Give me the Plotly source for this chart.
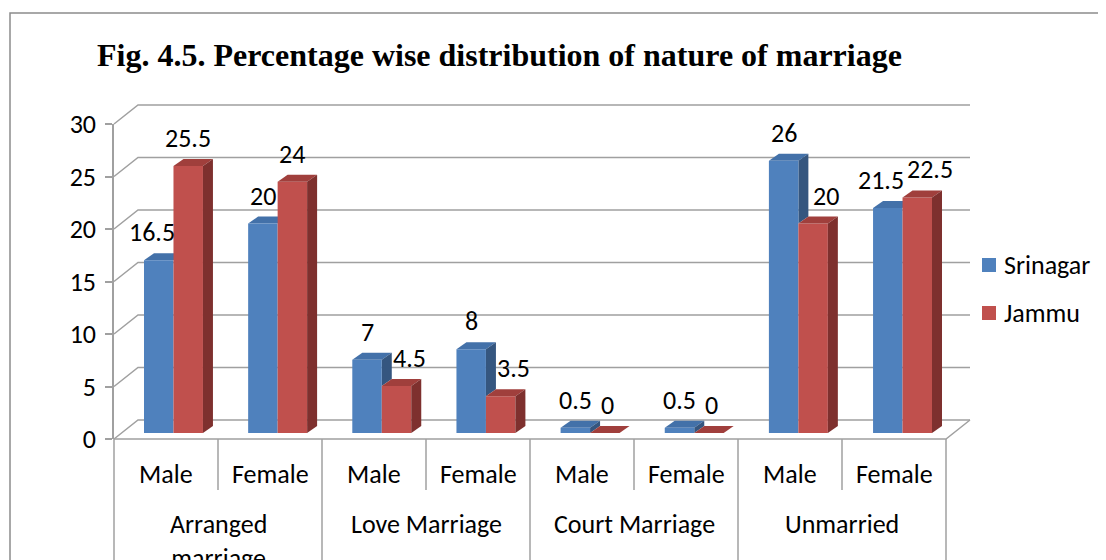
import plotly.graph_objects as go

# ---------------- data ----------------
sub_labels = ["Male", "Female", "Male", "Female", "Male", "Female", "Male", "Female"]
group_labels = ["Arranged<br>marriage", "Love Marriage", "Court Marriage", "Unmarried"]
series_names = ["Srinagar", "Jammu"]
srinagar = [16.5, 20, 7, 8, 0.5, 0.5, 26, 21.5]
jammu = [25.5, 24, 4.5, 3.5, 0, 0, 20, 22.5]
y_ticks = [0, 5, 10, 15, 20, 25, 30]
title_text = "Fig. 4.5. Percentage wise distribution of nature of marriage"

# ---------------- style ----------------
W, H = 1106, 560
OFF = 8  # page body margin compensation
BLUE, BLUE_TOP, BLUE_SIDE = "#4F81BD", "#4371A9", "#35567F"
RED, RED_TOP, RED_SIDE = "#C0504D", "#A03F3C", "#7E302E"
GRID = "#A0A0A0"
FONT = "Carlito, Lato, Calibri, sans-serif"
FS = 26


def X(px):
    return (px - OFF) / W


def Y(py):
    return 1 - (py - OFF) / H


n = len(sub_labels)
cat_w = 104.0          # pixel width of one category on the floor front
front_left = 114.0     # y-axis position
front_right = front_left + cat_w * n
depth_dx, depth_dy = 24.0, 19.0      # floor depth (pixels)
y0_front, px_per_unit = 439.0, 10.5
BW = 0.283                            # bar width (category units)
DX, DY = 10 / 104.15, 7 / 10.47      # bar depth in data units

fig = go.Figure()
fig.add_trace(go.Bar(x=list(range(n)), y=srinagar, width=BW, offset=-BW,
                     marker=dict(color=BLUE, line=dict(width=0)), name=series_names[0],
                     showlegend=False, xaxis="x", yaxis="y"))
fig.add_trace(go.Bar(x=list(range(n)), y=jammu, width=BW, offset=0,
                     marker=dict(color=RED, line=dict(width=0)), name=series_names[1],
                     showlegend=False, xaxis="x", yaxis="y"))
# empty trace so that the value-axis subplot is drawn
fig.add_trace(go.Scatter(x=[], y=[], xaxis="x2", yaxis="y2", showlegend=False, hoverinfo="skip"))

shapes = []
# outer frame
shapes.append(dict(type="rect", xref="paper", yref="paper", x0=X(10), x1=X(1125), y0=Y(13), y1=Y(610),
                   line=dict(color="#8C8C8C", width=1.5), layer="below"))
# back wall gridlines and floor
for v in y_ticks:
    yf = y0_front - v * px_per_unit
    yb = yf - depth_dy
    shapes.append(dict(type="path", xref="paper", yref="paper", layer="below",
                       path=f"M {X(front_left)},{Y(yf)} L {X(front_left + depth_dx)},{Y(yb)} "
                            f"L {X(front_right + depth_dx)},{Y(yb)}",
                       line=dict(color=GRID, width=1.5)))
# floor front edge and right diagonal
shapes.append(dict(type="path", xref="paper", yref="paper", layer="below",
                   path=f"M {X(front_left)},{Y(y0_front)} L {X(front_right)},{Y(y0_front)} "
                        f"L {X(front_right + depth_dx)},{Y(y0_front - depth_dy)}",
                   line=dict(color=GRID, width=1.5)))
# category table lines
for k in range(n + 1):
    xk = front_left + cat_w * k
    bottom = 610 if k % 2 == 0 else 490
    shapes.append(dict(type="line", xref="paper", yref="paper", layer="below",
                       x0=X(xk), x1=X(xk), y0=Y(y0_front), y1=Y(bottom),
                       line=dict(color=GRID, width=1.5)))

# 3D faces of the bars, computed from the values
for i, (b, r) in enumerate(zip(srinagar, jammu)):
    xl, xm, xr = i - BW, i, i + BW
    shapes.append(dict(type="path", xref="x", yref="y", layer="below", fillcolor=BLUE_TOP,
                       line=dict(width=0),
                       path=f"M {xl},{b} L {xm},{b} L {xm + DX},{b + DY} L {xl + DX},{b + DY} Z"))
    if b > r:
        shapes.append(dict(type="path", xref="x", yref="y", layer="below", fillcolor=BLUE_SIDE,
                           line=dict(width=0),
                           path=f"M {xm},{r} L {xm},{b} L {xm + DX},{b + DY} L {xm + DX},{r + DY} Z"))
    shapes.append(dict(type="path", xref="x", yref="y", layer="above", fillcolor=RED_TOP,
                       line=dict(width=0),
                       path=f"M {xm},{r} L {xr},{r} L {xr + DX},{r + DY} L {xm + DX},{r + DY} Z"))
    shapes.append(dict(type="path", xref="x", yref="y", layer="above", fillcolor=RED_SIDE,
                       line=dict(width=0),
                       path=f"M {xr},0 L {xr},{r} L {xr + DX},{r + DY} L {xr + DX},{DY} Z"))

annotations = []
# data labels
for i, (b, r) in enumerate(zip(srinagar, jammu)):
    tb, tr = f"{b:g}", f"{r:g}"
    sb = -7 if (r > b and len(tb) > 2) else 0
    if (b - r) > 1 or (abs(b - r) <= 1.5 and len(tb) > 2 and len(tr) > 2):
        sr = 13
    elif b > r:
        sr = 3
    else:
        sr = 0
    annotations.append(dict(x=i - BW / 2, y=b, xref="x", yref="y", text=tb, showarrow=False,
                            xanchor="center", xshift=sb, yshift=28,
                            font=dict(family=FONT, size=FS, color="black")))
    annotations.append(dict(x=i + BW / 2, y=r, xref="x", yref="y", text=tr, showarrow=False,
                            xanchor="center", xshift=sr, yshift=28,
                            font=dict(family=FONT, size=FS, color="black")))
# category labels
for k, lab in enumerate(sub_labels):
    annotations.append(dict(x=X(front_left + cat_w * (k + 0.5)), y=Y(474), xref="paper", yref="paper",
                            text=lab, showarrow=False, font=dict(family=FONT, size=FS, color="black"),
                            xanchor="center", yanchor="middle"))
for g, lab in enumerate(group_labels):
    annotations.append(dict(x=X(front_left + cat_w * (2 * g + 1)), y=Y(506), xref="paper", yref="paper",
                            text=lab, showarrow=False, font=dict(family=FONT, size=FS, color="black"),
                            xanchor="center", yanchor="top", align="center"))
# title
annotations.append(dict(x=X(499), y=Y(55), xref="paper", yref="paper", text=f"<b>{title_text}</b>",
                        showarrow=False, xanchor="center", yanchor="middle",
                        font=dict(family="Liberation Serif, Times New Roman, serif", size=32, color="black")))
# legend
for j, (nm, col) in enumerate(zip(series_names, [BLUE, RED])):
    cy = 265 + 48 * j
    shapes.append(dict(type="rect", xref="paper", yref="paper", x0=X(982), x1=X(996),
                       y0=Y(cy - 7), y1=Y(cy + 7), fillcolor=col, line=dict(width=0)))
    annotations.append(dict(x=X(1002), y=Y(cy), xref="paper", yref="paper", text=nm, showarrow=False,
                            xanchor="left", yanchor="middle",
                            font=dict(family=FONT, size=FS, color="black")))

fig.update_layout(
    width=W, height=H,
    margin=dict(l=0, r=0, t=0, b=0, pad=0, autoexpand=False),
    paper_bgcolor="white", plot_bgcolor="rgba(0,0,0,0)",
    showlegend=False,
    barmode="overlay",
    xaxis=dict(domain=[X(121.4), X(121.4 + 104.15 * n)], range=[-0.5, n - 0.5], visible=False,
               anchor="y", fixedrange=True, automargin=False),
    yaxis=dict(domain=[Y(433), Y(433 - 30 * 10.47)], range=[0, 30], visible=False,
               anchor="x", fixedrange=True, automargin=False),
    xaxis2=dict(domain=[X(front_left), X(front_right)], range=[0, 1], visible=False, anchor="y2",
                automargin=False),
    yaxis2=dict(domain=[Y(y0_front), Y(y0_front - 30 * px_per_unit)], range=[0, 30], anchor="x2",
                showline=True, linecolor=GRID, linewidth=1.5, ticks="outside", ticklen=7,
                tickcolor=GRID, tickwidth=1.5, tickvals=y_ticks, showgrid=False, zeroline=False,
                automargin=False,
                tickfont=dict(family=FONT, size=FS, color="black"), ticklabelstandoff=4),
    shapes=shapes,
    annotations=annotations,
)

fig.write_html("out.html")
